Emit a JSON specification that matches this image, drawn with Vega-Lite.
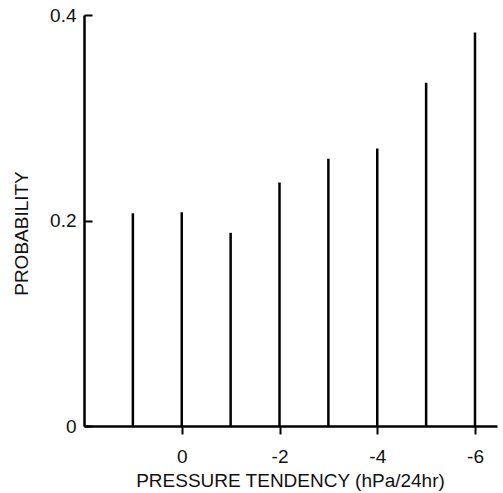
{
  "$schema": "https://vega.github.io/schema/vega-lite/v6.json",
  "autosize": "none",
  "width": 413,
  "height": 411,
  "padding": {"left": 84, "top": 15, "right": 6, "bottom": 67},
  "background": "white",
  "config": {
    "view": {"stroke": null},
    "font": "Liberation Sans",
    "axis": {"grid": false, "domainColor": "black", "domainWidth": 2.5, "tickColor": "black", "tickWidth": 2, "labelColor": "#111", "titleColor": "#111", "labelFontSize": 19, "titleFontSize": 19, "titleFontWeight": "normal", "labelFont": "Liberation Sans", "titleFont": "Liberation Sans"}
  },
  "data": {
    "values": [
      {"tendency": 1, "probability": 0.207},
      {"tendency": 0, "probability": 0.208},
      {"tendency": -1, "probability": 0.188},
      {"tendency": -2, "probability": 0.237},
      {"tendency": -3, "probability": 0.26},
      {"tendency": -4, "probability": 0.27},
      {"tendency": -5, "probability": 0.334},
      {"tendency": -6, "probability": 0.383}
    ]
  },
  "mark": {"type": "rule", "color": "black", "strokeWidth": 2.5},
  "encoding": {
    "x": {
      "field": "tendency",
      "type": "quantitative",
      "scale": {"domain": [2, -6.45], "nice": false, "zero": false},
      "axis": {
        "values": [0, -2, -4, -6],
        "labelExpr": "datum.value + ''",
        "tickSize": 8,
        "labelPadding": 13,
        "title": "PRESSURE TENDENCY  (hPa/24hr)",
        "titlePadding": 5,
        "titleX": 206
      }
    },
    "y": {
      "field": "probability",
      "type": "quantitative",
      "scale": {"domain": [0, 0.4], "nice": false},
      "axis": {
        "values": [0, 0.2, 0.4],
        "labelExpr": "datum.value + ''",
        "tickSize": -8,
        "labelPadding": 16,
        "title": "PROBABILITY",
        "titlePadding": 18,
        "titleY": 218
      }
    },
    "y2": {"datum": 0}
  }
}
